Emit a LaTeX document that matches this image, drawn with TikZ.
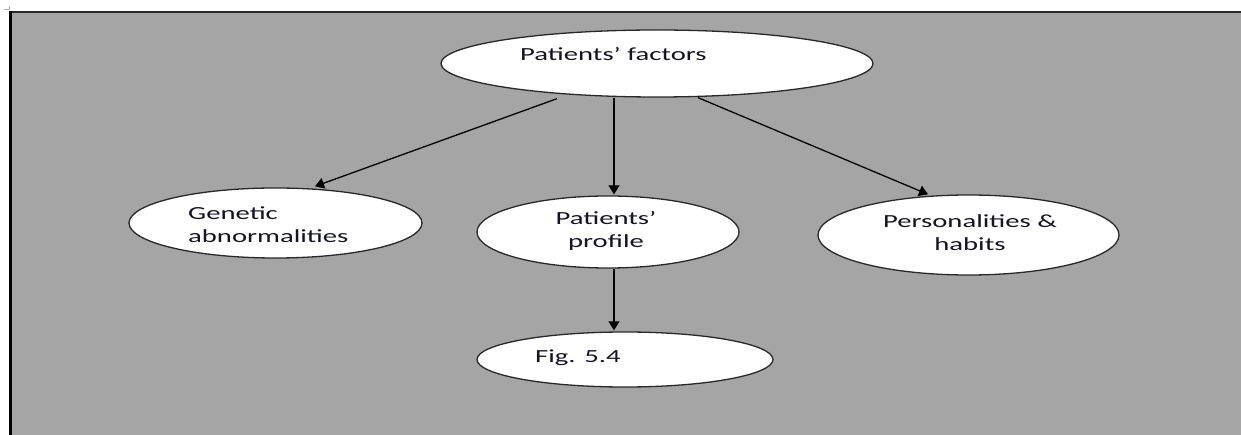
\documentclass[tikz,border=0pt]{standalone}
\usepackage{fontspec}
\usetikzlibrary{shapes.geometric,arrows.meta,calc}
\newfontfamily\lblfont{Carlito}[FakeStretch=1.55]
\definecolor{bggray}{RGB}{165,165,165}
\definecolor{edgegray}{RGB}{40,40,40}
\definecolor{txtcol}{RGB}{20,20,35}
\begin{document}
\begin{tikzpicture}[x=1pt,y=-1pt,
  oval/.style={ellipse,draw=edgegray,fill=white,line width=1.3pt,inner sep=0pt},
  lbl/.style={inner sep=0pt,font=\lblfont\fontsize{18.5}{23}\selectfont,text=txtcol},
  arr/.style={draw=black,line width=1.3pt,-{Triangle[length=9pt,width=11pt]}}]
\useasboundingbox (0,0) rectangle (1241,435);
% background panel
\fill[bggray] (10,11.5) rectangle (1241,435);
\draw[edgegray,line width=1.5pt] (10,12) -- (1241,12);
\draw[black,line width=2.2pt] (10.5,11) -- (10.5,435);
\draw[gray!60,line width=1pt] (4,9.5) -- (10,9.5) (9.5,6.5) -- (9.5,10);
% ellipses
\node[oval,minimum width=432pt,minimum height=67pt] (pf) at (657,63.5) {};
\node[oval,minimum width=293pt,minimum height=70pt] (gen) at (275.5,223) {};
\node[oval,minimum width=262pt,minimum height=72pt] (pp) at (608,232) {};
\node[oval,minimum width=301pt,minimum height=80pt] (per) at (968.5,235) {};
\node[oval,minimum width=296pt,minimum height=55pt] (fig) at (625,359.5) {};
% labels
\node[lbl,anchor=base west] (pft) at (520,61) {Patients’ factors};
\node[lbl,anchor=base west,align=left] (gent) at (188,243) {Genetic\\abnormalities};
\node[lbl,anchor=base,align=center] (ppt) at (606,248) {Patients’\\profile};
\node[lbl,anchor=base,align=center] (pert) at (970,251) {Personalities \&\\habits};
\node[lbl,anchor=base west] (figt) at (535,362) {Fig. 5.4};
% connectors
\coordinate (cx) at (614,0);
\draw[arr] ($(pf.south)+(-100,1)$) -- ($(gen.north)+(39.5,-1)$);
\draw[arr] (pf.south -| cx) -- ($(pp.north -| cx)+(0,-1)$);
\draw[arr] ($(pf.south)+(41,0)$) -- ($(per.north)+(-40.5,0)$);
\draw[arr] (pp.south -| cx) -- ($(fig.north -| cx)+(0,-1)$);
\end{tikzpicture}
\end{document}
